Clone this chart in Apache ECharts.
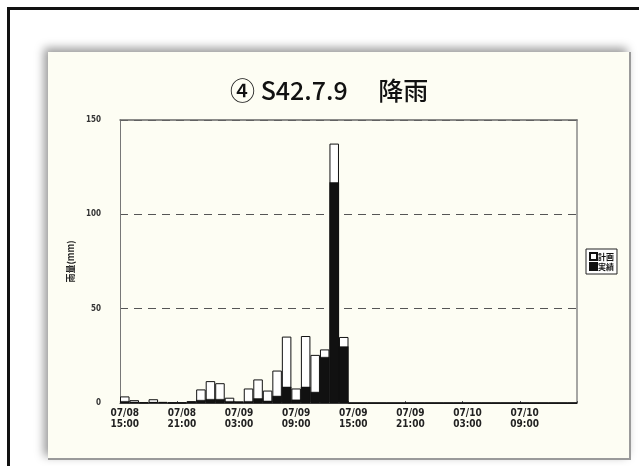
<!DOCTYPE html>
<html>
<head>
<meta charset="utf-8">
<script src="https://cdn.jsdelivr.net/npm/echarts@6/dist/echarts.min.js"></script>
<style>
  html, body { margin: 0; padding: 0; width: 639px; height: 466px; background: #ffffff; overflow: hidden; }
  #frame { position: absolute; left: 7px; top: 7px; width: 700px; height: 520px; border-left: 3px solid #111; border-top: 3px solid #111; }
  #panel { position: absolute; left: 48px; top: 52px; width: 581px; height: 406px; background: #fdfdf3;
           box-shadow: -4px -4px 9px rgba(0,0,0,0.4); border-right: 2px solid #9a9a9a; border-bottom: 2px solid #9a9a9a; }
  #chart { width: 581px; height: 406px; }
</style>
</head>
<body>
<div id="frame"></div>
<div id="panel"><div id="chart"></div></div>
<script>
// Chart title and texts
const titleText = '④ S42.7.9　 降雨';
const seriesNames = ['計画', '実績'];
const yAxisName = '雨量(mm)';

// Hourly categories, 07/08 15:00 .. 07/10 14:00
const categories = [
  '07/08\n15:00','07/08\n16:00','07/08\n17:00','07/08\n18:00','07/08\n19:00','07/08\n20:00',
  '07/08\n21:00','07/08\n22:00','07/08\n23:00','07/09\n00:00','07/09\n01:00','07/09\n02:00',
  '07/09\n03:00','07/09\n04:00','07/09\n05:00','07/09\n06:00','07/09\n07:00','07/09\n08:00',
  '07/09\n09:00','07/09\n10:00','07/09\n11:00','07/09\n12:00','07/09\n13:00','07/09\n14:00',
  '07/09\n15:00','07/09\n16:00','07/09\n17:00','07/09\n18:00','07/09\n19:00','07/09\n20:00',
  '07/09\n21:00','07/09\n22:00','07/09\n23:00','07/10\n00:00','07/10\n01:00','07/10\n02:00',
  '07/10\n03:00','07/10\n04:00','07/10\n05:00','07/10\n06:00','07/10\n07:00','07/10\n08:00',
  '07/10\n09:00','07/10\n10:00','07/10\n11:00','07/10\n12:00','07/10\n13:00','07/10\n14:00'
];

// 計画 (planned rainfall, mm/h)
const planValues = [
  3.5, 1.5, 0.3, 2.0, 0.6, 0.2,
  0.2, 1.0, 7.2, 11.6, 10.5, 2.8,
  0.9, 7.7, 12.5, 6.6, 17.2, 35.2,
  7.7, 35.5, 25.5, 28.4, 137.5, 35.0,
  0, 0, 0, 0, 0, 0,
  0, 0, 0, 0, 0, 0,
  0, 0, 0, 0, 0, 0,
  0, 0, 0, 0, 0, 0
];

// 実績 (observed rainfall, mm/h)
const actualValues = [
  1.0, 0.6, 0.3, 0.5, 0.3, 0.2,
  0.2, 0.7, 1.6, 2.1, 2.1, 1.0,
  0.5, 1.0, 2.5, 1.2, 3.8, 8.6,
  1.8, 8.6, 5.9, 24.4, 117.0, 30.0,
  0, 0, 0, 0, 0, 0,
  0, 0, 0, 0, 0, 0,
  0, 0, 0, 0, 0, 0,
  0, 0, 0, 0, 0, 0
];

// Y ticks
const yMin = 0, yMax = 150, yStep = 50;

const chart = echarts.init(document.getElementById('chart'), null, { renderer: 'canvas' });
const labelFont = "'DejaVu Sans Condensed', 'Liberation Sans Narrow', 'Roboto', sans-serif";

chart.setOption({
  backgroundColor: 'transparent',
  animation: false,
  title: {
    text: titleText,
    left: 177,
    top: 21,
    textStyle: { fontFamily: "'Noto Sans CJK JP', sans-serif", fontSize: 25, fontWeight: 500, color: '#111' }
  },
  legend: {
    orient: 'vertical',
    left: 538,
    top: 197,
    padding: [3, 3, 3, 3],
    itemGap: 1,
    itemWidth: 7,
    itemHeight: 7,
    borderColor: '#222',
    borderWidth: 1,
    backgroundColor: '#fff',
    icon: 'rect',
    textStyle: { fontFamily: "'Noto Sans CJK JP', sans-serif", fontSize: 8, color: '#111', fontWeight: 'bold', padding: [0, 0, 0, -4] },
    data: seriesNames
  },
  grid: {
    left: 72, right: 52, top: 68, bottom: 55,
    show: false
  },
  xAxis: [
    {
      type: 'category',
      data: categories,
      boundaryGap: true,
      axisLine: { lineStyle: { color: '#444', width: 1 } },
      axisTick: { show: true, inside: true, length: 2, lineStyle: { color: '#555' } },
      axisLabel: {
        interval: 5,
        margin: 5,
        fontFamily: labelFont,
        fontWeight: 'bold',
        fontSize: 10,
        lineHeight: 11,
        color: '#222'
      }
    },
    {
      type: 'category',
      data: categories,
      position: 'top',
      axisLine: { show: true, onZero: false, lineStyle: { color: '#666', width: 1.5 } },
      axisTick: { show: false },
      axisLabel: { show: false }
    }
  ],
  yAxis: [
    {
      type: 'value',
      min: yMin, max: yMax, interval: yStep,
      name: yAxisName,
      nameLocation: 'middle',
      nameRotate: 90,
      nameGap: 38,
      nameTextStyle: { fontFamily: "'Noto Sans CJK JP', sans-serif", fontSize: 9, color: '#222', fontWeight: 'bold' },
      axisLine: { show: true, lineStyle: { color: '#777', width: 1 } },
      axisTick: { show: false },
      axisLabel: { margin: 19, fontFamily: labelFont, fontWeight: 'bold', fontSize: 8, color: '#333' },
      splitLine: { show: true, lineStyle: { color: '#555', type: [8, 6], width: 1 } }
    },
    {
      type: 'value',
      min: yMin, max: yMax, interval: yStep,
      position: 'right',
      axisLine: { show: true, onZero: false, lineStyle: { color: '#888', width: 1.5 } },
      axisTick: { show: false },
      axisLabel: { show: false },
      splitLine: { show: false }
    }
  ],
  series: [
    {
      name: seriesNames[0],
      type: 'bar',
      data: planValues,
      barCategoryGap: '0%',
      barGap: '-100%',
      itemStyle: { color: '#ffffff', borderColor: '#111', borderWidth: 1 },
      z: 2
    },
    {
      name: seriesNames[1],
      type: 'bar',
      data: actualValues,
      barCategoryGap: '0%',
      barGap: '-100%',
      itemStyle: { color: '#111111', borderColor: '#111', borderWidth: 0.5 },
      z: 3
    }
  ]
});
</script>
</body>
</html>
